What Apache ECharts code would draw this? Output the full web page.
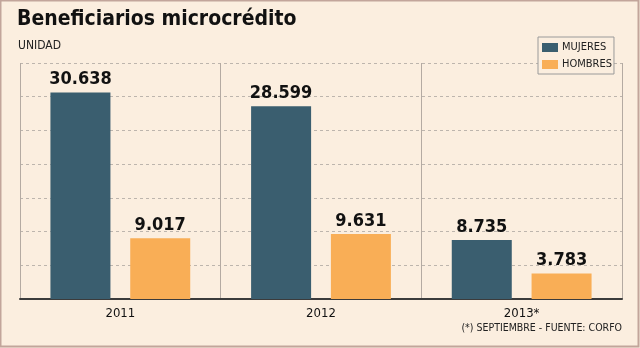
<!DOCTYPE html>
<html>
<head>
<meta charset="utf-8">
<script src="https://cdn.jsdelivr.net/npm/echarts@6/dist/echarts.min.js"></script>
<style>
  html, body { margin: 0; padding: 0; background: #fbeedf; }
  #chart { width: 640px; height: 348px; }
</style>
</head>
<body>
<div id="chart"></div>
<script>
// Microcredit beneficiaries by year and sex
const years = ['2011', '2012', '2013*'];
const mujeres = [30638, 28599, 8735];
const hombres = [9017, 9631, 3783];
const yTicks = { min: 0, max: 35000, interval: 5000 };

const FONT = '"DejaVu Sans Condensed", "DejaVu Sans", sans-serif';

function fmt(v) {
  return String(v).replace(/\B(?=(\d{3})+(?!\d))/g, '.');
}

const chart = echarts.init(document.getElementById('chart'), null, { renderer: 'canvas' });

const valueLabel = {
  show: true,
  position: 'top',
  distance: 4,
  color: '#111',
  fontFamily: FONT,
  fontWeight: 'bold',
  fontSize: 18,
  formatter: p => fmt(p.value)
};

chart.setOption({
  backgroundColor: '#fbeedf',
  animation: false,
  textStyle: { fontFamily: FONT },
  title: [
    {
      text: 'Beneficiarios microcrédito',
      left: 17, top: 9, padding: 0,
      textStyle: { fontFamily: FONT, fontWeight: 'bold', fontSize: 21, color: '#111' }
    },
    {
      text: 'UNIDAD',
      left: 18, top: 40, padding: 0,
      textStyle: { fontFamily: FONT, fontWeight: 'normal', fontSize: 12, color: '#222' }
    },
    {
      text: '(*) SEPTIEMBRE - FUENTE: CORFO',
      right: 18, top: 323, padding: 0,
      textStyle: { fontFamily: FONT, fontWeight: 'normal', fontSize: 10.5, color: '#222' }
    }
  ],
  legend: {
    orient: 'vertical',
    left: 538, top: 37,
    itemWidth: 16, itemHeight: 9, itemGap: 6,
    padding: [5, 2, 4, 4],
    borderColor: '#9a9a9a', borderWidth: 1,
    backgroundColor: '#fbeedf',
    icon: 'rect',
    textStyle: { fontFamily: FONT, fontSize: 11, color: '#222', padding: [0, 0, 0, -1] },
    data: ['MUJERES', 'HOMBRES']
  },
  grid: { left: 20, right: 18, top: 63, bottom: 49 },
  xAxis: {
    type: 'category',
    data: years,
    boundaryGap: true,
    axisLine: { lineStyle: { color: '#3b3b3b', width: 2 } },
    axisTick: { show: false },
    axisLabel: { color: '#111', fontFamily: FONT, fontSize: 13, margin: 8 },
    splitLine: { show: true, lineStyle: { color: '#b4aaa2', width: 1, type: 'solid' } }
  },
  yAxis: {
    type: 'value',
    min: yTicks.min, max: yTicks.max, interval: yTicks.interval,
    axisLine: { show: false },
    axisTick: { show: false },
    axisLabel: { show: false },
    splitLine: { show: true, lineStyle: { color: '#bdb5ad', width: 1, type: [3, 3] } }
  },
  series: [
    {
      name: 'MUJERES', type: 'bar', data: mujeres,
      barWidth: 60, barGap: '33%',
      itemStyle: { color: '#3a5e6f' },
      label: valueLabel
    },
    {
      name: 'HOMBRES', type: 'bar', data: hombres,
      barWidth: 60,
      itemStyle: { color: '#f9ae56' },
      label: valueLabel
    }
  ],
  graphic: [
    {
      type: 'rect',
      shape: { x: 0.5, y: 0.5, width: 638, height: 346 },
      style: { fill: 'none', stroke: '#c2a59b', lineWidth: 2 },
      silent: true, z: 100
    }
  ]
});
</script>
</body>
</html>
